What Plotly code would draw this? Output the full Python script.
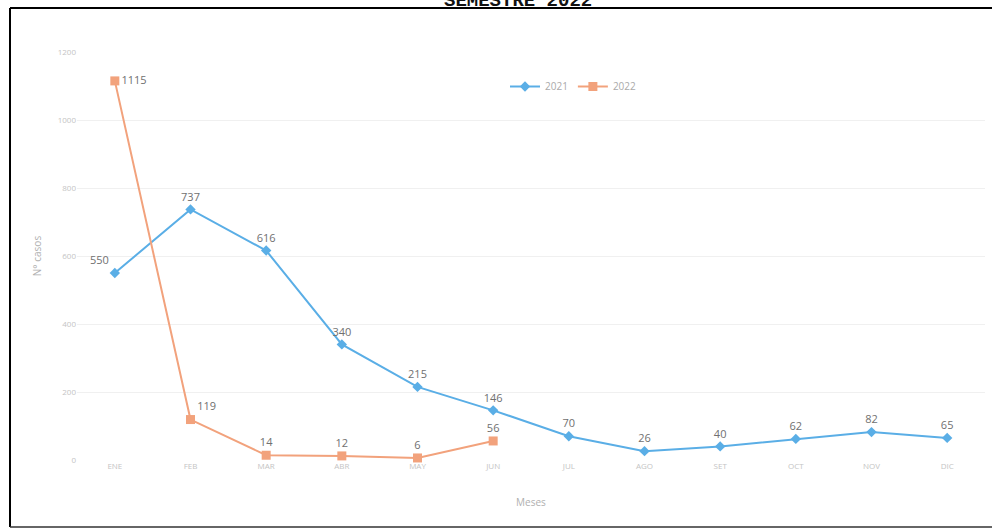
import plotly.graph_objects as go

months = ["ENE", "FEB", "MAR", "ABR", "MAY", "JUN", "JUL", "AGO", "SET", "OCT", "NOV", "DIC"]
casos_2021 = [550, 737, 616, 340, 215, 146, 70, 26, 40, 62, 82, 65]
casos_2022 = [1115, 119, 14, 12, 6, 56]
y_ticks = [0, 200, 400, 600, 800, 1000, 1200]
title_text = "SEMESTRE 2022"

blue = "#5aaee6"
orange = "#f2a27c"

pos_2021 = ["top left"] + ["top center"] * (len(casos_2021) - 1)
pos_2022 = ["middle right", "top right"] + ["top center"] * (len(casos_2022) - 2)

fig = go.Figure()
fig.add_trace(go.Scatter(
    x=months, y=casos_2021, name="2021", mode="lines+markers+text",
    line=dict(color=blue, width=2),
    marker=dict(symbol="diamond", size=8, color=blue),
    text=[str(v) for v in casos_2021], textposition=pos_2021,
    textfont=dict(family="Open Sans", size=11, color="#707070"),
    cliponaxis=False,
))
fig.add_trace(go.Scatter(
    x=months[:len(casos_2022)], y=casos_2022, name="2022", mode="lines+markers+text",
    line=dict(color=orange, width=2),
    marker=dict(symbol="square", size=9, color=orange),
    text=[str(v) for v in casos_2022], textposition=pos_2022,
    textfont=dict(family="Open Sans", size=11, color="#707070"),
    cliponaxis=False,
))

L, R = 77, 985
T, B = 52, 460
W, H = 992, 529

def px(x):
    return (x - L) / (R - L)

def py(y):
    return (B - y) / (B - T)

shapes = [
    dict(type="line", xref="paper", yref="paper", x0=px(10), x1=px(10), y0=py(8), y1=py(527),
         line=dict(color="black", width=2)),
    dict(type="line", xref="paper", yref="paper", x0=px(10), x1=px(992), y0=py(8), y1=py(8),
         line=dict(color="black", width=2)),
    dict(type="line", xref="paper", yref="paper", x0=px(10), x1=px(992), y0=py(527), y1=py(527),
         line=dict(color="#333333", width=1.5)),
]

fig.update_layout(
    width=W, height=H,
    margin=dict(l=L, r=W - R, t=T, b=H - B, autoexpand=False),
    paper_bgcolor="white", plot_bgcolor="white",
    showlegend=True,
    legend=dict(orientation="h", x=px(505), y=py(72), xanchor="left", yanchor="top",
                font=dict(family="Open Sans", size=10, color="#aaaaaa"),
                bgcolor="rgba(0,0,0,0)", itemwidth=30),
    xaxis=dict(
        type="category", range=[-0.5, len(months) - 0.5],
        showgrid=False, zeroline=False, showline=False, automargin=False,
        tickfont=dict(family="Open Sans", size=8, color="#c4c4c4"),
        ticks="",
        title=dict(text="Meses", font=dict(family="Open Sans", size=10, color="#b0b0b0"), standoff=28),
    ),
    yaxis=dict(
        range=[0, 1200], tickvals=y_ticks, ticktext=[str(v) for v in y_ticks], automargin=False,
        showgrid=True, gridcolor="#f0f0f0", gridwidth=1, zeroline=False, showline=False,
        tickfont=dict(family="Open Sans", size=8, color="#c4c4c4"),
        title=dict(text="N° casos", font=dict(family="Open Sans", size=10, color="#b0b0b0"), standoff=14),
    ),
    shapes=shapes,
    annotations=[dict(
        text="<b>" + title_text + "</b>", xref="paper", yref="paper",
        x=px(518), y=py(14), xanchor="center", yanchor="bottom", showarrow=False,
        font=dict(family="Liberation Mono", size=19, color="#111111"),
    )],
)

fig.write_html(
    "out.html",
    config={"displayModeBar": False},
    post_script="document.body.style.margin='0';document.body.style.overflow='hidden';",
)
